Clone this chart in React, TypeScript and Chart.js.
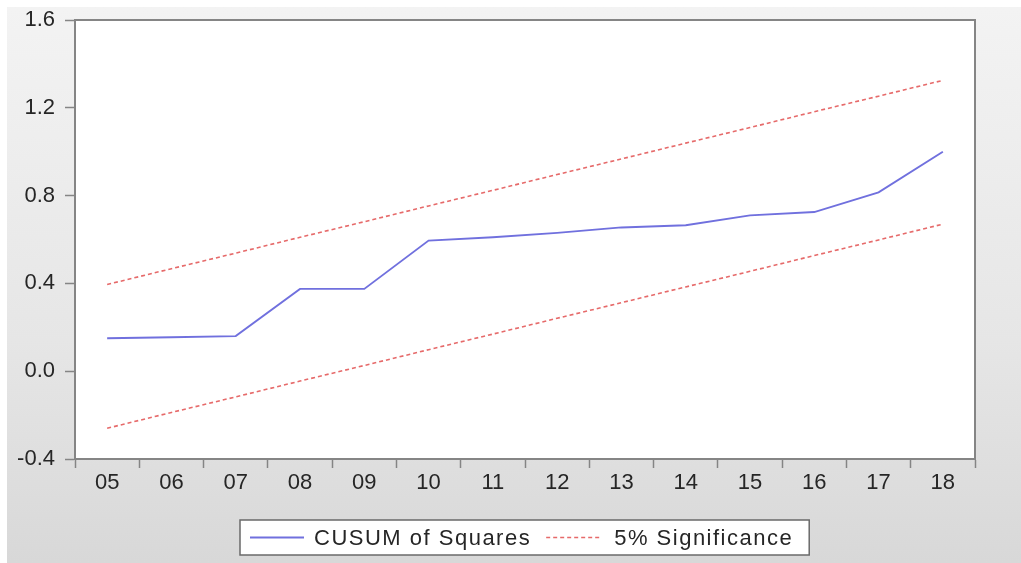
import React, { useEffect, useRef } from "react";
import { Chart, registerables } from "chart.js";

Chart.register(...registerables);

const categories = ["05", "06", "07", "08", "09", "10", "11", "12", "13", "14", "15", "16", "17", "18"];
const cusum = [0.15, 0.155, 0.16, 0.375, 0.375, 0.595, 0.61, 0.63, 0.655, 0.665, 0.71, 0.725, 0.815, 1.0];
const upperBound = [0.395, 0.467, 0.538, 0.61, 0.681, 0.753, 0.824, 0.896, 0.967, 1.039, 1.11, 1.182, 1.253, 1.325];
const lowerBound = [-0.26, -0.188, -0.117, -0.045, 0.026, 0.098, 0.169, 0.241, 0.312, 0.384, 0.455, 0.527, 0.598, 0.67];
const yTicks = [-0.4, 0.0, 0.4, 0.8, 1.2, 1.6];
const legendLabels = ["CUSUM of Squares", "5% Significance"];

const BLUE = "#7070de";
const RED = "#e66a6a";
const FONT = "'Liberation Sans', Arial, sans-serif";
const TEXT = "#262626";
const AXIS = "#858585";

const framePlugin = {
  id: "frame",
  beforeDraw(chart: any) {
    const { ctx, chartArea: a } = chart;
    ctx.save();
    ctx.fillStyle = "#ffffff";
    ctx.fillRect(a.left, a.top, a.right - a.left, a.bottom - a.top);
    ctx.restore();
  },
  afterDraw(chart: any) {
    const { ctx, chartArea: a } = chart;
    ctx.save();
    ctx.strokeStyle = AXIS;
    ctx.lineWidth = 2;
    ctx.strokeRect(a.left, a.top, a.right - a.left, a.bottom - a.top);
    ctx.restore();
  },
};

const legendPlugin = {
  id: "boxLegend",
  afterDraw(chart: any) {
    const { ctx, chartArea: a } = chart;
    ctx.save();
    ctx.font = `22px ${FONT}`;
    (ctx as any).letterSpacing = "1.5px";
    const w1 = ctx.measureText(legendLabels[0]).width;
    const w2 = ctx.measureText(legendLabels[1]).width;
    const lineLen = 54;
    const total = 10 + lineLen + 10 + w1 + 15 + lineLen + 14 + w2 + 16;
    const cx = (a.left + a.right) / 2;
    const left = Math.round(cx - total / 2);
    const top = a.bottom + 61;
    const h = 35;
    ctx.fillStyle = "#ffffff";
    ctx.fillRect(left, top, total, h);
    ctx.strokeStyle = "#6a6a6a";
    ctx.lineWidth = 1.5;
    ctx.strokeRect(left, top, total, h);
    const cy = top + h / 2;
    let x = left + 10;
    ctx.strokeStyle = BLUE;
    ctx.lineWidth = 1.8;
    ctx.setLineDash([]);
    ctx.beginPath();
    ctx.moveTo(x, cy);
    ctx.lineTo(x + lineLen, cy);
    ctx.stroke();
    x += lineLen + 10;
    ctx.fillStyle = TEXT;
    ctx.textBaseline = "middle";
    ctx.textAlign = "left";
    ctx.fillText(legendLabels[0], x, cy + 1);
    x += w1 + 15;
    ctx.strokeStyle = RED;
    ctx.lineWidth = 1.5;
    ctx.setLineDash([4, 3]);
    ctx.beginPath();
    ctx.moveTo(x, cy);
    ctx.lineTo(x + lineLen, cy);
    ctx.stroke();
    ctx.setLineDash([]);
    x += lineLen + 14;
    ctx.fillText(legendLabels[1], x, cy + 1);
    ctx.restore();
  },
};

export default function App() {
  const ref = useRef<HTMLCanvasElement | null>(null);

  useEffect(() => {
    if (!ref.current) return;
    const chart = new Chart(ref.current, {
      type: "line",
      data: {
        labels: categories,
        datasets: [
          {
            label: legendLabels[0],
            data: cusum,
            borderColor: BLUE,
            borderWidth: 1.9,
            pointRadius: 0,
            tension: 0,
            fill: false,
          },
          {
            label: legendLabels[1],
            data: upperBound,
            borderColor: RED,
            borderWidth: 1.6,
            borderDash: [4, 3],
            pointRadius: 0,
            tension: 0,
            fill: false,
          },
          {
            label: legendLabels[1],
            data: lowerBound,
            borderColor: RED,
            borderWidth: 1.6,
            borderDash: [4, 3],
            pointRadius: 0,
            tension: 0,
            fill: false,
          },
        ],
      },
      options: {
        animation: false,
        responsive: true,
        maintainAspectRatio: false,
        layout: { padding: { left: 0, top: 13, right: 46, bottom: 0 } },
        plugins: {
          legend: { display: false },
          tooltip: { enabled: false },
        },
        scales: {
          x: {
            type: "category",
            offset: true,
            grid: {
              offset: true,
              drawOnChartArea: false,
              drawTicks: true,
              tickLength: 9,
              tickColor: AXIS,
              tickWidth: 1.5,
            },
            border: { display: true, color: AXIS, width: 2 },
            ticks: {
              color: TEXT,
              font: { family: FONT, size: 22 },
              padding: 2,
              maxRotation: 0,
              autoSkip: false,
            },
            afterFit: (s: any) => {
              s.height = 104;
              s.paddingLeft = 0;
              s.paddingRight = 0;
            },
          },
          y: {
            type: "linear",
            min: -0.4,
            max: 1.6,
            grid: {
              drawOnChartArea: false,
              drawTicks: true,
              tickLength: 10,
              tickColor: AXIS,
              tickWidth: 1.5,
            },
            border: { display: true, color: AXIS, width: 2 },
            afterBuildTicks: (s: any) => {
              s.ticks = yTicks.map((v) => ({ value: v }));
            },
            ticks: {
              color: TEXT,
              font: { family: FONT, size: 22 },
              padding: 10,
              callback: (v: any) => Number(v).toFixed(1),
            },
            afterFit: (s: any) => {
              s.width = 68;
              s.paddingTop = 0;
              s.paddingBottom = 0;
            },
          },
        },
      },
      plugins: [framePlugin, legendPlugin],
    });
    return () => chart.destroy();
  }, []);

  return (
    <div
      style={{
        position: "fixed",
        left: 7,
        top: 7,
        right: 0,
        bottom: 0,
        background: "linear-gradient(to bottom, #f3f3f3 0%, #e6e6e6 60%, #d8d8d8 100%)",
      }}
    >
      <div style={{ position: "relative", width: "100%", height: "100%" }}>
        <canvas ref={ref} />
      </div>
    </div>
  );
}
